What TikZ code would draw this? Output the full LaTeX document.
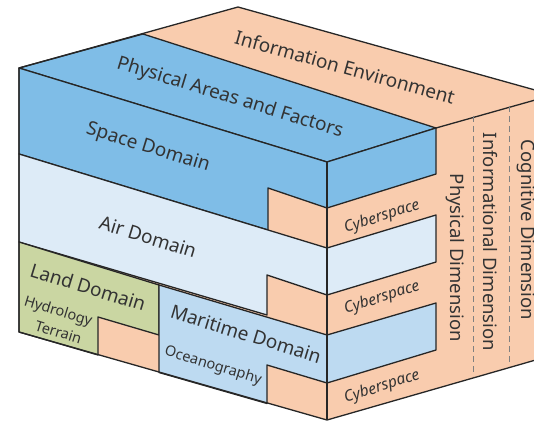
\documentclass[tikz,border=0pt]{standalone}
\usepackage{fontspec}
\setmainfont{Noto Sans}
\definecolor{peach}{HTML}{F9CCAE}
\definecolor{spaceblue}{HTML}{7FBDE7}
\definecolor{airblue}{HTML}{DDEBF7}
\definecolor{seablue}{HTML}{BDDAF1}
\definecolor{landgreen}{HTML}{CAD6A2}
\definecolor{linec}{HTML}{262626}
\definecolor{txt}{HTML}{333333}
\definecolor{dashc}{HTML}{808080}
\tikzset{
  edge/.style={draw=linec, line width=1.3pt, line join=round},
  lbl/.style={text=txt, font=\fontsize{19}{21}\selectfont, inner sep=0pt},
  sublbl/.style={text=txt, font=\fontsize{14.5}{16}\selectfont, inner sep=0pt},
  cyb/.style={text=txt, font=\itshape\fontsize{15.5}{17}\selectfont, inner sep=0pt, rotate=18},
  dimlbl/.style={text=txt, font=\fontsize{18.5}{20}\selectfont, rotate=-90, inner sep=0pt},
  dimline/.style={draw=dashc, line width=0.9pt, dash pattern=on 6pt off 4pt}
}
\begin{document}
\begin{tikzpicture}[x=1pt,y=-1pt]
\useasboundingbox (0,0) rectangle (534,422);
\clip (0,0) rectangle (534,422);
% whole body (information environment)
\fill[peach] (19,68) -- (238,7) -- (560,97) -- (560,353) -- (327,420) -- (19,332) -- cycle;
% top face of physical areas
\path[edge, fill=spaceblue] (19,68) -- (143,34) -- (436,128) -- (327,162) -- cycle;
% space domain
\path[edge, fill=spaceblue] (19,68) -- (327,162) -- (327,208) -- (268,188) -- (268,230) -- (19,154) -- cycle;
\path[edge, fill=spaceblue] (327,162) -- (436,128) -- (436,174) -- (327,208) -- cycle;
% air domain
\path[edge, fill=airblue] (19,154) -- (327,248) -- (327,295) -- (267,275) -- (267,315) -- (19,242) -- cycle;
\path[edge, fill=airblue] (327,248) -- (436,215) -- (436,262) -- (327,295) -- cycle;
% land domain
\path[edge, fill=landgreen] (19,242) -- (159,285) -- (159,335) -- (98,317) -- (98,355) -- (19,332) -- cycle;
% maritime domain
\path[edge, fill=seablue] (159,285) -- (327,335) -- (327,383) -- (267,365) -- (267,403.5) -- (159,372.5) -- cycle;
\path[edge, fill=seablue] (327,335) -- (436,303) -- (436,350) -- (327,383) -- cycle;
% outline
\draw[edge] (19,68) -- (238,7) -- (560,97);
\draw[edge] (436,128) -- (560,93);
\draw[edge] (19,68) -- (19,332) -- (327,420) -- (560,353);
\draw[edge] (327,162) -- (327,420);
% dimension separators
\draw[dimline] (473.5,116) -- (473.5,376);
\draw[dimline] (509.5,106) -- (509.5,366);
% labels
\node[lbl, rotate=-15.6] (env) at (345,67) {Information Environment};
\node[lbl, rotate=-17] (phys) at (230,98) {Physical Areas and Factors};
\node[lbl, rotate=-17] (space) at (148,148) {Space Domain};
\node[lbl, rotate=-17] (air) at (148,237) {Air Domain};
\node[lbl, rotate=-17] (land) at (88,287) {Land Domain};
\node[sublbl, rotate=-17] (hydro) at (58,312) {Hydrology};
\node[sublbl, rotate=-17] (terrain) at (58.5,332) {Terrain};
\node[lbl, rotate=-17] (sea) at (246,334) {Maritime Domain};
\node[sublbl, rotate=-17] (ocean) at (213,366) {Oceanography};
\node[cyb] (cyb1) at (382,217) {Cyberspace};
\node[cyb] (cyb2) at (382,298) {Cyberspace};
\node[cyb] (cyb3) at (382,387) {Cyberspace};
\node[dimlbl] (pdim) at (455,258) {Physical Dimension};
\node[dimlbl] (idim) at (490,242) {Informational Dimension};
\node[dimlbl] (cdim) at (526,230) {Cognitive Dimension};
\end{tikzpicture}
\end{document}
